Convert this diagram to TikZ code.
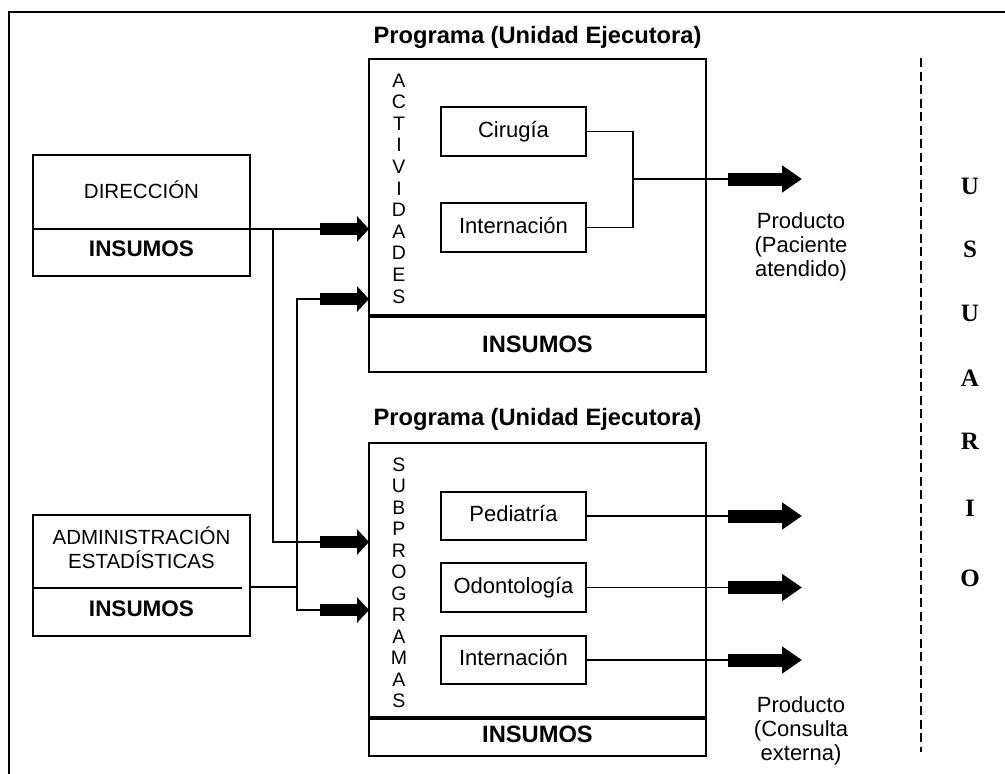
\documentclass[tikz,border=0pt]{standalone}
\usepackage{fontspec}
\setmainfont{Liberation Sans}
\newfontfamily\timesf{Liberation Serif}
\usetikzlibrary{arrows.meta}
\begin{document}
\begin{tikzpicture}[x=1pt,y=-1pt,
  box/.style={draw, line width=1.8pt, inner sep=0pt, outer sep=0pt, anchor=north west},
  txt/.style={inner sep=0pt, font=\fontsize{22}{24}\selectfont, align=center},
  ltxt/.style={inner sep=0pt, font=\fontsize{20.5}{24}\selectfont, align=center},
  btxt/.style={inner sep=0pt, font=\fontsize{23.7}{27}\bfseries\selectfont},
  lbtxt/.style={inner sep=0pt, font=\fontsize{22.5}{27}\bfseries\selectfont},
  vtxt/.style={inner sep=0pt, font=\fontsize{19.5}{21.6}\selectfont, anchor=base},
  utxt/.style={inner sep=0pt, font=\fontsize{25}{27}\timesf\bfseries\selectfont},
  conn/.style={line width=1.4pt},
  divider/.style={line width=1.8pt},
  thickdiv/.style={line width=3.2pt},
  inarrow/.style={line width=12pt, -{Triangle[width=25pt,length=12pt]}},
  outarrow/.style={line width=13pt, -{Triangle[width=26pt,length=20pt]}},
]
\useasboundingbox (0,0) rectangle (1005,774);
% outer frame
\draw[line width=2pt] (9,776) -- (9,12) -- (1007,12);

% left boxes
\node[box, minimum width=217pt, minimum height=121pt] (dir) at (33,155) {};
\draw[divider] (33,229) -- (250,229);
\node[ltxt, anchor=base] (dirt) at (141.5,198) {DIRECCIÓN};
\node[lbtxt, anchor=base] (dirins) at (141.5,256) {INSUMOS};

\node[box, minimum width=217pt, minimum height=121pt] (adm) at (33,515) {};
\draw[divider] (33,588) -- (242,588);
\node[ltxt, anchor=base] (admt1) at (141.5,544) {ADMINISTRACIÓN};
\node[ltxt, anchor=base] (admt2) at (141.5,568) {ESTADÍSTICAS};
\node[lbtxt, anchor=base] (admins) at (141.5,616) {INSUMOS};

% program boxes
\node[btxt, anchor=base] (title1) at (537.5,43) {Programa (Unidad Ejecutora)};
\node[box, minimum width=337pt, minimum height=313pt] (prog1) at (369,59) {};
\draw[thickdiv] (369,316) -- (706,316);
\node[btxt, anchor=base] (ins1) at (537.5,352) {INSUMOS};
\foreach \l [count=\i from 0] in {A,C,T,I,V,I,D,A,D,E,S}
  \node[vtxt] (act\i) at (399,87+21.6*\i) {\l};
\node[box, minimum width=145pt, minimum height=49pt] (cir) at (441,107) {};
\node[txt, anchor=base] (cirt) at (513.5,137) {Cirugía};
\node[box, minimum width=145pt, minimum height=49pt] (int1) at (441,203) {};
\node[txt, anchor=base] (int1t) at (513.5,233) {Internación};

\node[btxt, anchor=base] (title2) at (537.5,425) {Programa (Unidad Ejecutora)};
\node[box, minimum width=337pt, minimum height=313pt] (prog2) at (369,443) {};
\draw[thickdiv] (369,718) -- (706,718);
\node[btxt, anchor=base] (ins2) at (537.5,742) {INSUMOS};
\foreach \l [count=\i from 0] in {S,U,B,P,R,O,G,R,A,M,A,S}
  \node[vtxt] (sub\i) at (399,471+21.5*\i) {\l};
\node[box, minimum width=145pt, minimum height=48pt] (ped) at (441,492) {};
\node[txt, anchor=base] (pedt) at (513.5,521) {Pediatría};
\node[box, minimum width=145pt, minimum height=49pt] (odo) at (441,563) {};
\node[txt, anchor=base] (odot) at (513.5,593) {Odontología};
\node[box, minimum width=145pt, minimum height=48pt] (int2) at (441,636) {};
\node[txt, anchor=base] (int2t) at (513.5,665) {Internación};

% products
\node[txt] (prod1) at (801,247) {Producto\\(Paciente\\atendido)};
\node[txt] (prod2) at (801,731) {Producto\\(Consulta\\externa)};

% usuario
\draw[line width=2pt, dash pattern=on 9pt off 4.5pt] (921,58) coordinate (dtop) -- (921,752) coordinate (dbot);
\foreach \l/\y [count=\i] in {U/186,S/249,U/313,A/378,R/441,I/508,O/578}
  \node[utxt] (usr\i) at (970,\y) {\l};

% left connectors
\coordinate (dirout) at (250,229);
\coordinate (j1) at (273,229);
\coordinate (a1) at (320,229);
\coordinate (a2) at (320,299);
\coordinate (a3) at (320,542);
\coordinate (a4) at (320,610);
\coordinate (admout) at (250,587);
\coordinate (j2) at (297,587);
\coordinate (k1) at (297,299);
\coordinate (k2) at (297,610);
\draw[conn] (dirout) -- (a1);
\draw[conn] (j1) |- (a3);
\draw[conn] (admout) -- (j2);
\draw[conn] (a2) -- (k1) -- (k2) -- (a4);
\draw[inarrow] (a1) -- (prog1.west |- a1);
\draw[inarrow] (a2) -- (prog1.west |- a2);
\draw[inarrow] (a3) -- (prog2.west |- a3);
\draw[inarrow] (a4) -- (prog2.west |- a4);

% right connectors
\coordinate (m) at (633,179);
\coordinate (ox) at (728,0);
\coordinate (ex) at (802,0);
\draw[conn] (cir.east) -| (m);
\draw[conn] (int1.east) -| (m);
\draw[conn] (m) -- (m -| ox);
\draw[outarrow] (m -| ox) -- (m -| ex);
\foreach \b in {ped,odo,int2}{
  \draw[conn] (\b.east) -- (\b.east -| ox);
  \draw[outarrow] (\b.east -| ox) -- (\b.east -| ex);
}
\end{tikzpicture}
\end{document}
